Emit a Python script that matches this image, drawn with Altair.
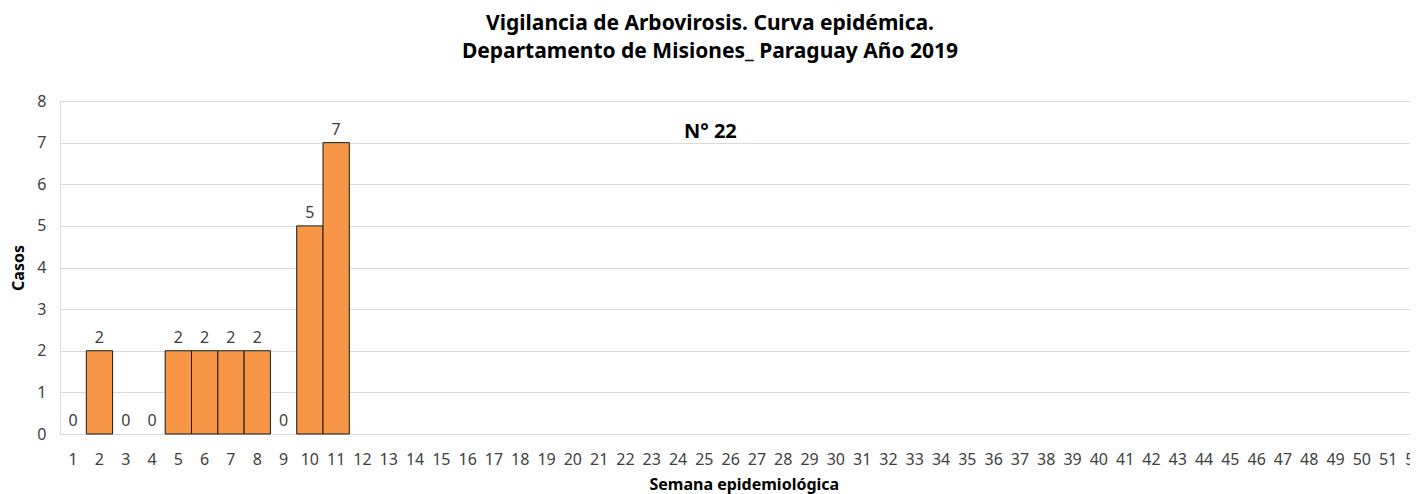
import altair as alt
import pandas as pd

semanas = list(range(1, 53))
semanas_con_datos = [1, 2, 3, 4, 5, 6, 7, 8, 9, 10, 11]
casos = [0, 2, 0, 0, 2, 2, 2, 2, 0, 5, 7]
nota_texto = ["N° 22"]
nota_semana = [25]
nota_y = [7.25]
titulo = ["Vigilancia de Arbovirosis. Curva epidémica.",
          "Departamento  de Misiones_  Paraguay Año 2019"]

FONT = "Noto Sans"
df = pd.DataFrame({"semana": semanas_con_datos, "casos": casos})
nota = pd.DataFrame({"semana": nota_semana, "y": nota_y, "t": nota_texto})

xscale = alt.Scale(domain=semanas, range=[0, 1367.6], paddingInner=0, paddingOuter=0)
yscale = alt.Scale(domain=[0, 8])

x = alt.X("semana:O", scale=xscale, sort=semanas,
          axis=alt.Axis(title="Semana epidemiológica", labelAngle=0, ticks=False,
                        domain=False, labelPadding=17, labelFontSize=16,
                        labelColor="#404040", labelFont=FONT, titleFont=FONT,
                        titleFontSize=16, titleFontWeight="bold", titleColor="black",
                        titlePadding=9))
y = alt.Y("casos:Q", scale=yscale,
          axis=alt.Axis(title="Casos", values=list(range(0, 9)), ticks=False,
                        domain=False, labelPadding=14, labelFontSize=16,
                        labelColor="#404040", labelFont=FONT, titleFont=FONT,
                        titleFontSize=16, titleFontWeight="bold", titleColor="black",
                        titlePadding=10, gridColor="#d9d9d9", gridWidth=1.2))

bars = alt.Chart(df).transform_filter(alt.datum.casos > 0).mark_bar(
    color="#F79646", stroke="#1a1a1a", strokeWidth=1).encode(x=x, y=y)
labels = alt.Chart(df).mark_text(baseline="bottom", dy=-5, fontSize=16, font=FONT,
                                 color="#404040").encode(
    x=alt.X("semana:O", scale=xscale, sort=semanas),
    y=alt.Y("casos:Q", scale=yscale), text="casos:Q")
note = alt.Chart(nota).mark_text(fontSize=20, fontWeight="bold", font=FONT,
                                 color="black", dx=6).encode(
    x=alt.X("semana:O", scale=xscale, sort=semanas),
    y=alt.Y("y:Q", scale=yscale), text="t:N")

chart = alt.layer(bars, labels, note).properties(
    width=1350, height=333,
    title=alt.TitleParams(text=titulo, fontSize=21, fontWeight="bold", font=FONT,
                          color="black", anchor="middle", dx=-25, offset=31,
                          lineHeight=28),
    autosize=alt.AutoSizeParams(type="none"),
    padding={"left": 52, "top": 93, "right": 0, "bottom": 60},
).configure_view(stroke=None).configure(background="white")

chart.save("out.html", embed_options={"renderer": "svg", "actions": False})
